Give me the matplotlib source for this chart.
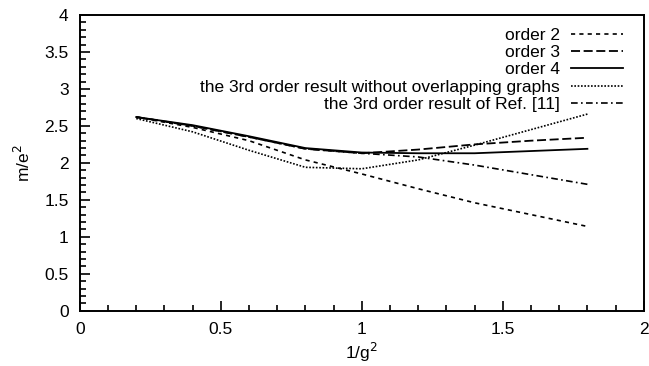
import matplotlib
matplotlib.use("Agg")
import matplotlib.pyplot as plt
from matplotlib.ticker import MultipleLocator, FuncFormatter

plt.rcParams['font.family'] = ['Liberation Sans', 'DejaVu Sans']

x = [0.2, 0.4, 0.6, 0.8, 1.0, 1.2, 1.4, 1.6, 1.8]
order2 = [2.62, 2.48, 2.30, 2.04, 1.85, 1.65, 1.46, 1.30, 1.14]
order3 = [2.62, 2.50, 2.35, 2.19, 2.13, 2.18, 2.25, 2.30, 2.34]
order4 = [2.62, 2.51, 2.36, 2.20, 2.14, 2.13, 2.13, 2.16, 2.19]
no_overlap = [2.60, 2.42, 2.17, 1.94, 1.92, 2.04, 2.24, 2.45, 2.66]
ref11 = [2.62, 2.50, 2.35, 2.19, 2.13, 2.08, 1.97, 1.84, 1.71]

labels = ["order 2", "order 3", "order 4",
          "the 3rd order result without overlapping graphs",
          "the 3rd order result of Ref. [11]"]

fig = plt.figure(figsize=(6.49, 3.66), dpi=100)
ax = fig.add_axes([0.123, 0.151, 0.869, 0.808])

ax.plot(x, order2, color='black', lw=1.2, linestyle=(0, (2.5, 2.5)), label=labels[0])
ax.plot(x, order3, color='black', lw=1.3, linestyle=(0, (5, 2)), label=labels[1])
ax.plot(x, order4, color='black', lw=1.3, linestyle='-', label=labels[2])
ax.plot(x, no_overlap, color='black', lw=1.2, linestyle=(0, (1, 1)), label=labels[3])
ax.plot(x, ref11, color='black', lw=1.2, linestyle=(0, (4, 2, 1, 2)), label=labels[4])

ax.set_xlim(0, 2)
ax.set_ylim(0, 4)
ax.xaxis.set_major_locator(MultipleLocator(0.5))
ax.xaxis.set_minor_locator(MultipleLocator(0.1))
ax.yaxis.set_major_locator(MultipleLocator(0.5))
ax.yaxis.set_minor_locator(MultipleLocator(0.1))
ax.xaxis.set_major_formatter(FuncFormatter(lambda v, p: f"{v:g}"))
ax.yaxis.set_major_formatter(FuncFormatter(lambda v, p: f"{v:g}"))
ax.tick_params(which='both', direction='in', top=False, right=False, width=1.2,
               labelsize=12.5)
ax.tick_params(which='major', length=7, pad=8)
ax.tick_params(which='minor', length=4)
for s in ax.spines.values():
    s.set_linewidth(1.4)

ax.set_xlabel("1/g$^2$", fontsize=12.5, labelpad=3)
ax.set_ylabel("m/e$^2$", fontsize=12.5, labelpad=8)

leg = ax.legend(loc='upper right', bbox_to_anchor=(0.981, 0.993), frameon=False,
                markerfirst=False, fontsize=12.5, handlelength=3.0,
                labelspacing=0.13, handletextpad=0.6, borderaxespad=0.2)
for t in leg.get_texts():
    t.set_ha('right')
leg._legend_box.align = 'right'

fig.savefig("out.png", dpi=100)
